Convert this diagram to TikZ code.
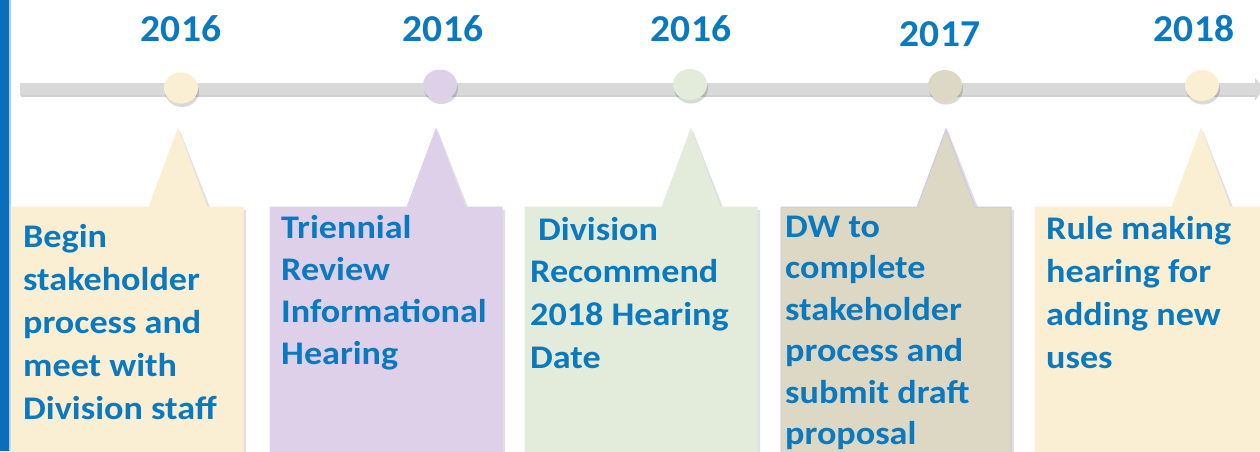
\documentclass[tikz,border=0pt]{standalone}
\usepackage{fontspec}
\setmainfont{Carlito}[FakeStretch=1.095]
\newfontfamily\yearfont{Carlito}[FakeStretch=1.04]
\usetikzlibrary{shapes.geometric}
\definecolor{txtblue}{HTML}{0A79C0}
\definecolor{cream}{HTML}{FAEFD3}
\definecolor{lav}{HTML}{DFD0EA}
\definecolor{lgreen}{HTML}{E3EBDA}
\definecolor{tan}{HTML}{DDD8C3}
\definecolor{lavline}{HTML}{D3C6E6}
\definecolor{linegray}{HTML}{D9D9D9}
\definecolor{borderblue}{HTML}{0A6EBD}
\definecolor{borderlight}{HTML}{A9CFEE}
\newcommand{\mycallout}[5]{%
  \fill[black, opacity=0.12] (#1+2,210) -- (#3-27,210) -- (#3+2,131) -- (#3+33,210) -- (#2+3,210) -- (#2+3,460) -- (#1+2,460) -- cycle;
  \path[fill=#4, draw=#5, line width=1pt] (#1,207) -- (#3-29,207) -- (#3,129) -- (#3+29,207) -- (#2,207) -- (#2,460) -- (#1,460) -- cycle;
}
\tikzset{
  yearlbl/.style={anchor=base, inner sep=0pt, text=txtblue, font=\yearfont\bfseries\fontsize{38}{40}\selectfont},
  boxtxt/.style={anchor=base west, inner sep=0pt, text=txtblue, font=\bfseries\fontsize{33}{42.5}\selectfont},
  dot/.style={ellipse, minimum width=34pt, minimum height=31pt, inner sep=0pt},
  dotshadow/.style={ellipse, minimum width=34pt, minimum height=31pt, inner sep=0pt, fill=black, opacity=0.15},
}
\begin{document}
\begin{tikzpicture}[x=1pt,y=-1pt]
\useasboundingbox (0,0) rectangle (1260,451);
\clip (0,0) rectangle (1260,451);
\fill[white] (0,0) rectangle (1260,451);
% left border
\fill[borderblue] (0,0) rectangle (9,451);
\fill[borderlight] (9,0) rectangle (10.5,451);
% timeline
\fill[black, opacity=0.18] (21,86) rectangle (1256,97);
\fill[linegray] (20,83) rectangle (1256,95);
\fill[linegray] (1255,77.5) -- (1264,89) -- (1255,100.5) -- cycle;
% callouts
\mycallout{11}{243}{178}{cream}{cream}
\mycallout{270}{502}{436}{lav}{lav}
\mycallout{525}{757}{691}{lgreen}{lgreen}
\mycallout{781}{1011}{946}{tan}{lavline}
\mycallout{1035}{1275}{1201}{cream}{cream}
% dots
\node[dotshadow] at (182,91.5) {};
\node[dotshadow] at (441,88.5) {};
\node[dotshadow] at (691,88) {};
\node[dotshadow] at (946,89) {};
\node[dotshadow] at (1203,89) {};
\node[dot, fill=cream] (c1) at (181,88) {};
\node[dot, fill=lav] (c2) at (440,85) {};
\node[dot, fill=lgreen] (c3) at (690,84.5) {};
\node[dot, fill=tan] (c4) at (945,85.5) {};
\node[dot, fill=cream] (c5) at (1202,85.5) {};
% years
\node[yearlbl] (y1) at (181,41) {2016};
\node[yearlbl] (y2) at (443,41) {2016};
\node[yearlbl] (y3) at (691,41) {2016};
\node[yearlbl] (y4) at (940,46) {2017};
\node[yearlbl] (y5) at (1194,41) {2018};
% texts
\node[boxtxt] (t1) at (23,247) {\parbox[t]{215pt}{\raggedright\baselineskip=43pt Begin\\stakeholder\\process and\\meet with\\Division staff}};
\node[boxtxt] (t2) at (281,238) {\parbox[t]{220pt}{\raggedright\baselineskip=42.3pt Triennial\\Review\\Informational\\Hearing}};
\node[boxtxt] (t3) at (530,240) {\parbox[t]{225pt}{\raggedright\baselineskip=42.7pt \hspace*{8pt}Division\\Recommend\\2018 Hearing\\Date}};
\node[boxtxt] (t4) at (785,237) {\parbox[t]{225pt}{\raggedright\baselineskip=41.5pt DW to\\complete\\stakeholder\\process and\\submit draft\\proposal}};
\node[boxtxt] (t5) at (1046,239) {\parbox[t]{215pt}{\raggedright\baselineskip=43pt Rule making\\hearing for\\adding new\\uses}};
\end{tikzpicture}
\end{document}
